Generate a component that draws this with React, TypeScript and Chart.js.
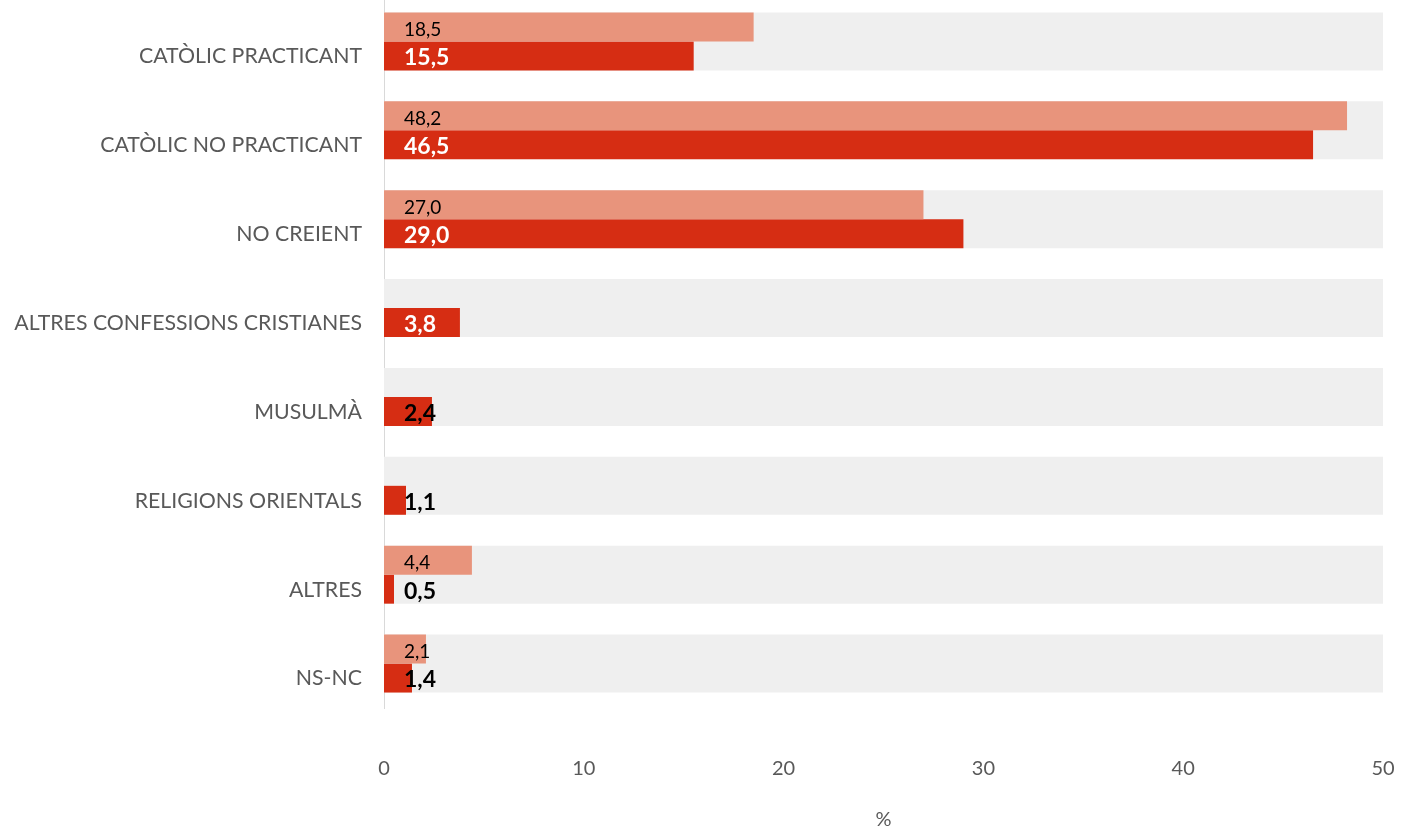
import React, { useEffect, useRef } from "react";
import { Chart, registerables } from "chart.js";

Chart.register(...registerables);

const categories = [
  "CATÒLIC PRACTICANT",
  "CATÒLIC NO PRACTICANT",
  "NO CREIENT",
  "ALTRES CONFESSIONS CRISTIANES",
  "MUSULMÀ",
  "RELIGIONS ORIENTALS",
  "ALTRES",
  "NS-NC",
];
const previousValues: (number | null)[] = [18.5, 48.2, 27.0, null, null, null, 4.4, 2.1];
const currentValues: (number | null)[] = [15.5, 46.5, 29.0, 3.8, 2.4, 1.1, 0.5, 1.4];
const backgroundValues = [50, 50, 50, 50, 50, 50, 50, 50];
const xTicks = [0, 10, 20, 30, 40, 50];

const FONT = "Lato";
const LIGHT = "#E8947C";
const RED = "#D62D13";
const GREY = "#EFEFEF";
const TEXT_GREY = "#595959";

const fmt = (v: number) => v.toFixed(1).replace(".", ",");

const labelPlugin = {
  id: "barLabels",
  afterDatasetsDraw(chart: any) {
    const ctx = chart.ctx;
    ctx.save();
    ctx.textBaseline = "middle";
    ctx.textAlign = "left";
    [0, 1].forEach((di) => {
      const meta = chart.getDatasetMeta(di);
      const data = chart.data.datasets[di].data;
      meta.data.forEach((bar: any, i: number) => {
        const v = data[i];
        if (v === null || v === undefined) return;
        const x = bar.base + 20;
        if (di === 0) {
          ctx.font = `19px ${FONT}`;
          ctx.fillStyle = "#000000";
          ctx.fillText(fmt(v), x, bar.y + 3);
        } else {
          ctx.font = `bold 23px ${FONT}`;
          const tw = ctx.measureText(fmt(v)).width;
          const barW = Math.abs(bar.x - bar.base);
          ctx.fillStyle = barW > tw + 24 ? "#FFFFFF" : "#000000";
          ctx.fillText(fmt(v), x, bar.y + 2);
        }
      });
    });
    ctx.restore();
  },
};

export default function App() {
  const ref = useRef<HTMLCanvasElement | null>(null);
  useEffect(() => {
    document.body.style.margin = "0";
    document.body.style.overflow = "hidden";
    if (!ref.current) return;
    const chart = new Chart(ref.current, {
      type: "bar",
      data: {
        labels: categories,
        datasets: [
          {
            label: "Anterior",
            data: previousValues,
            backgroundColor: LIGHT,
            categoryPercentage: 0.652,
            barPercentage: 1,
            order: 0,
          },
          {
            label: "Actual",
            data: currentValues,
            backgroundColor: RED,
            categoryPercentage: 0.652,
            barPercentage: 1,
            order: 0,
          },
          {
            label: "Fons",
            data: backgroundValues,
            backgroundColor: GREY,
            grouped: false,
            categoryPercentage: 0.652,
            barPercentage: 1,
            order: 1,
          } as any,
        ],
      },
      options: {
        indexAxis: "y",
        responsive: false,
        animation: false,
        layout: { padding: { top: 0, right: 18, left: 0, bottom: 0 } },
        plugins: {
          legend: { display: false },
          tooltip: { enabled: false },
        },
        scales: {
          x: {
            min: 0,
            max: 50,
            afterBuildTicks: (scale: any) => {
              scale.ticks = xTicks.map((v) => ({ value: v }));
            },
            afterFit: (scale: any) => {
              scale.height = 122;
              scale.paddingLeft = 0;
              scale.paddingRight = 0;
            },
            grid: { display: false, drawTicks: false },
            border: { display: false },
            ticks: {
              padding: 49,
              color: TEXT_GREY,
              font: { family: FONT, size: 20 },
            },
            title: {
              display: true,
              text: "%",
              color: TEXT_GREY,
              font: { family: FONT, size: 20 },
              padding: { top: 0, bottom: -2 },
            },
          },
          y: {
            grid: { display: false, drawTicks: false },
            border: { display: true, color: "#D9D9D9" },
            afterFit: (scale: any) => {
              scale.width = 384;
              scale.paddingTop = 0;
              scale.paddingBottom = 0;
            },
            ticks: {
              padding: 22,
              labelOffset: 15,
              color: TEXT_GREY,
              font: { family: FONT, size: 21.3 },
            },
          },
        },
      },
      plugins: [labelPlugin],
    });
    return () => chart.destroy();
  }, []);
  return (
    <canvas
      ref={ref}
      width={1401}
      height={833}
      style={{ display: "block", marginTop: -3 }}
    />
  );
}
